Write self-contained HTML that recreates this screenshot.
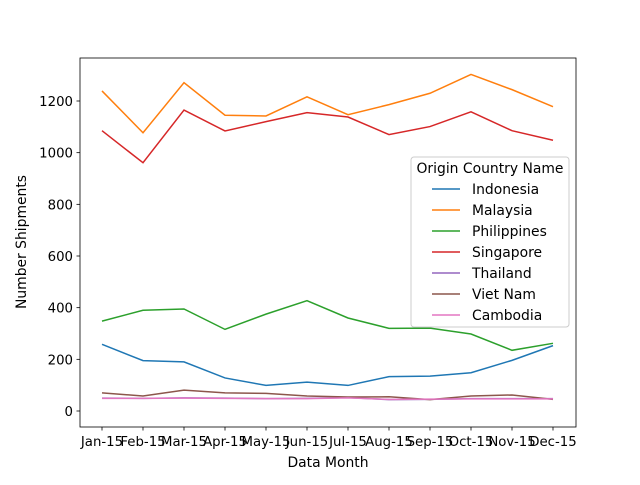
<!DOCTYPE html>
<html><head><meta charset="utf-8"><style>
body{margin:0;background:#fff}
svg text{font-family:"DejaVu Sans","Liberation Sans",sans-serif;fill:#000}
</style></head><body>
<svg id="c" width="640" height="480"></svg>
<script>
const months=["Jan-15","Feb-15","Mar-15","Apr-15","May-15","Jun-15","Jul-15","Aug-15","Sep-15","Oct-15","Nov-15","Dec-15"];
const yTicks=[0,200,400,600,800,1000,1200];
const seriesNames=["Indonesia","Malaysia","Philippines","Singapore","Thailand","Viet Nam","Cambodia"];
const colors=["#1f77b4","#ff7f0e","#2ca02c","#d62728","#9467bd","#8c564b","#e377c2"];
const indonesia=[258,195,190,128,99,112,99,133,135,148,196,253];
const malaysia=[1239,1077,1271,1145,1142,1216,1147,1186,1230,1303,1244,1178];
const philippines=[348,390,395,316,375,427,360,320,321,298,235,262];
const singapore=[1085,961,1165,1084,1120,1155,1138,1070,1101,1158,1085,1048];
const thailand=[50,49,51,50,48,49,52,44,45,48,48,48];
const vietnam=[70,58,81,70,68,58,54,55,44,58,62,45];
const cambodia=[49,49,50,49,48,48,51,45,46,47,47,47];
const data=[indonesia,malaysia,philippines,singapore,thailand,vietnam,cambodia];
const NS="http://www.w3.org/2000/svg",svg=document.getElementById('c');
const L=80,R=576,T=58,B=427,FS=13.9,TFS=13.3;
const x=i=>102+i*(553-102)/11;
const y=v=>411-v*(310/1200);
function mk(t,a,p){const e=document.createElementNS(NS,t);for(const k in a)e.setAttribute(k,a[k]);(p||svg).appendChild(e);return e;}
yTicks.forEach(v=>{
 const g=mk('g',{});
 
 
 mk('line',{x1:L-3.5,x2:L,y1:y(v),y2:y(v),stroke:'#000','stroke-width':0.8},g);
 const t=mk('text',{x:L-7,y:y(v)+5,'text-anchor':'end','font-size':TFS},g);t.textContent=v;
});
months.forEach((m,i)=>{
 const g=mk('g',{});
 
 
 mk('line',{x1:x(i),x2:x(i),y1:B,y2:B+3.5,stroke:'#000','stroke-width':0.8},g);
 const t=mk('text',{x:x(i),y:B+19,'text-anchor':'middle','font-size':TFS},g);t.textContent=m;
});
data.forEach((d,s)=>{
 const p=mk('polyline',{points:d.map((v,i)=>x(i)+','+y(v)).join(' '),fill:'none',stroke:colors[s],'stroke-width':1.5});
 
 
});
const fr=mk('rect',{x:L,y:T,width:R-L,height:B-T,fill:'none',stroke:'#000','stroke-width':0.8});


const xt=mk('text',{x:328,y:467,'text-anchor':'middle','font-size':FS});xt.textContent='Data Month';


const yt=mk('text',{x:26,y:242,'text-anchor':'middle','font-size':FS,transform:'rotate(-90 26 242)'});yt.textContent='Number Shipments';


const lg=mk('g',{});


mk('rect',{x:411,y:157,width:158,height:170,rx:3,fill:'#fff','fill-opacity':0.8,stroke:'#ccc'},lg);
const lt=mk('text',{x:490,y:173,'text-anchor':'middle','font-size':FS},lg);lt.textContent='Origin Country Name';
seriesNames.forEach((n,s)=>{
 const g=mk('g',{},lg);
 
 
 const yy=189+s*21;
 mk('line',{x1:432,x2:460,y1:yy,y2:yy,stroke:colors[s],'stroke-width':1.5},g);
 const t=mk('text',{x:472,y:yy+5,'font-size':FS},g);t.textContent=n;
});
</script>
</body></html>
